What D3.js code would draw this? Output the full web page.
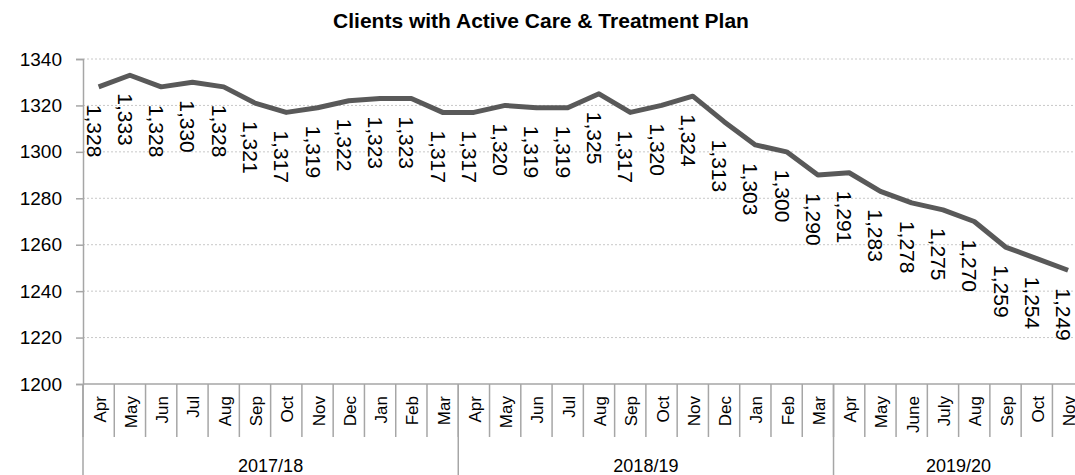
<!DOCTYPE html>
<html>
<head>
<script src="https://d3js.org/d3.v7.min.js"></script>
<style>
  body { margin: 0; background: #fff; }
  text { font-family: "Liberation Sans", Arial, sans-serif; }
</style>
</head>
<body>
<script>
// monthly values
var months = ["Apr","May","Jun","Jul","Aug","Sep","Oct","Nov","Dec","Jan","Feb","Mar",
              "Apr","May","Jun","Jul","Aug","Sep","Oct","Nov","Dec","Jan","Feb","Mar",
              "Apr","May","June","July","Aug","Sep","Oct","Nov"];
var values = [1328,1333,1328,1330,1328,1321,1317,1319,1322,1323,1323,1317,
              1317,1320,1319,1319,1325,1317,1320,1324,1313,1303,1300,1290,
              1291,1283,1278,1275,1270,1259,1254,1249];
var years = ["2017/18","2018/19","2019/20"];
var yearSizes = [12, 12, 8];
var yTicks = [1200,1220,1240,1260,1280,1300,1320,1340];

var width = 1075, height = 475;
// plot box (note: "top" is reserved on window, so use other names)
var plotL = 83, plotR = 1083.7, plotT = 59, plotB = 384;

var svg = d3.select("body").append("svg").attr("width", width).attr("height", height);

var idx = d3.range(months.length);
var x = d3.scaleBand().domain(idx).range([plotL, plotR]);
var y = d3.scaleLinear().domain([1200, 1340]).range([plotB, plotT]);

// title
svg.append("text")
  .attr("x", 541).attr("y", 28)
  .attr("text-anchor", "middle")
  .attr("font-weight", "bold").attr("font-size", 21)
  .text("Clients with Active Care & Treatment Plan");

// gridlines
svg.selectAll(".grid").data(yTicks.slice(1)).enter().append("line")
  .attr("x1", plotL).attr("x2", plotR)
  .attr("y1", d => y(d)).attr("y2", d => y(d))
  .attr("stroke", "#c8c8c8").attr("stroke-dasharray", "2,2");

// y axis
var yAxis = svg.append("g").attr("transform", "translate(" + plotL + ",0)")
  .call(d3.axisLeft(y).tickValues(yTicks).tickSize(7).tickPadding(14).tickFormat(d3.format("d")));
yAxis.select(".domain").attr("stroke", "#a6a6a6").attr("stroke-width", 1.5);
yAxis.selectAll(".tick line").attr("stroke", "#a6a6a6").attr("stroke-width", 1.5);
yAxis.selectAll("text").attr("font-size", 19).attr("fill", "#000")
  .attr("font-family", "Liberation Sans, Arial, sans-serif");

// bottom axis line
svg.append("line").attr("x1", plotL).attr("x2", plotR).attr("y1", plotB).attr("y2", plotB)
  .attr("stroke", "#a6a6a6").attr("stroke-width", 1.5);

// month separators
svg.selectAll(".msep").data(d3.range(months.length + 1)).enter().append("line")
  .attr("x1", d => plotL + d * x.step()).attr("x2", d => plotL + d * x.step())
  .attr("y1", plotB).attr("y2", 437)
  .attr("stroke", "#a6a6a6").attr("stroke-width", 1.5);

// month labels
svg.selectAll(".mlab").data(idx).enter().append("text")
  .attr("transform", d => "translate(" + (x(d) + x.bandwidth() / 2 + 7) + ",396) rotate(-90)")
  .attr("text-anchor", "end")
  .attr("font-size", 17)
  .text(d => months[d]);

// year groups
var starts = [0];
yearSizes.forEach(function (s, i) { starts.push(starts[i] + s); });
svg.selectAll(".ysep").data(starts).enter().append("line")
  .attr("x1", d => plotL + d * x.step()).attr("x2", d => plotL + d * x.step())
  .attr("y1", plotB).attr("y2", height)
  .attr("stroke", "#a6a6a6").attr("stroke-width", 1.5);
svg.selectAll(".ylab").data(years).enter().append("text")
  .attr("x", (d, i) => plotL + (starts[i] + yearSizes[i] / 2) * x.step())
  .attr("y", 472)
  .attr("text-anchor", "middle")
  .attr("font-size", 18)
  .text(d => d);

// line
var line = d3.line().x((d, i) => x(i) + x.bandwidth() / 2).y(d => y(d));
svg.append("path").datum(values)
  .attr("d", line)
  .attr("fill", "none").attr("stroke", "#595959").attr("stroke-width", 5)
  .attr("stroke-linejoin", "round");

// data labels
var fmt = d3.format(",");
svg.selectAll(".dlab").data(values).enter().append("text")
  .attr("transform", (d, i) => "translate(" + (x(i) + x.bandwidth() / 2 - 12) + "," + (y(d) + 18) + ") rotate(90)")
  .attr("font-size", 21)
  .text(d => fmt(d));
</script>
</body>
</html>
